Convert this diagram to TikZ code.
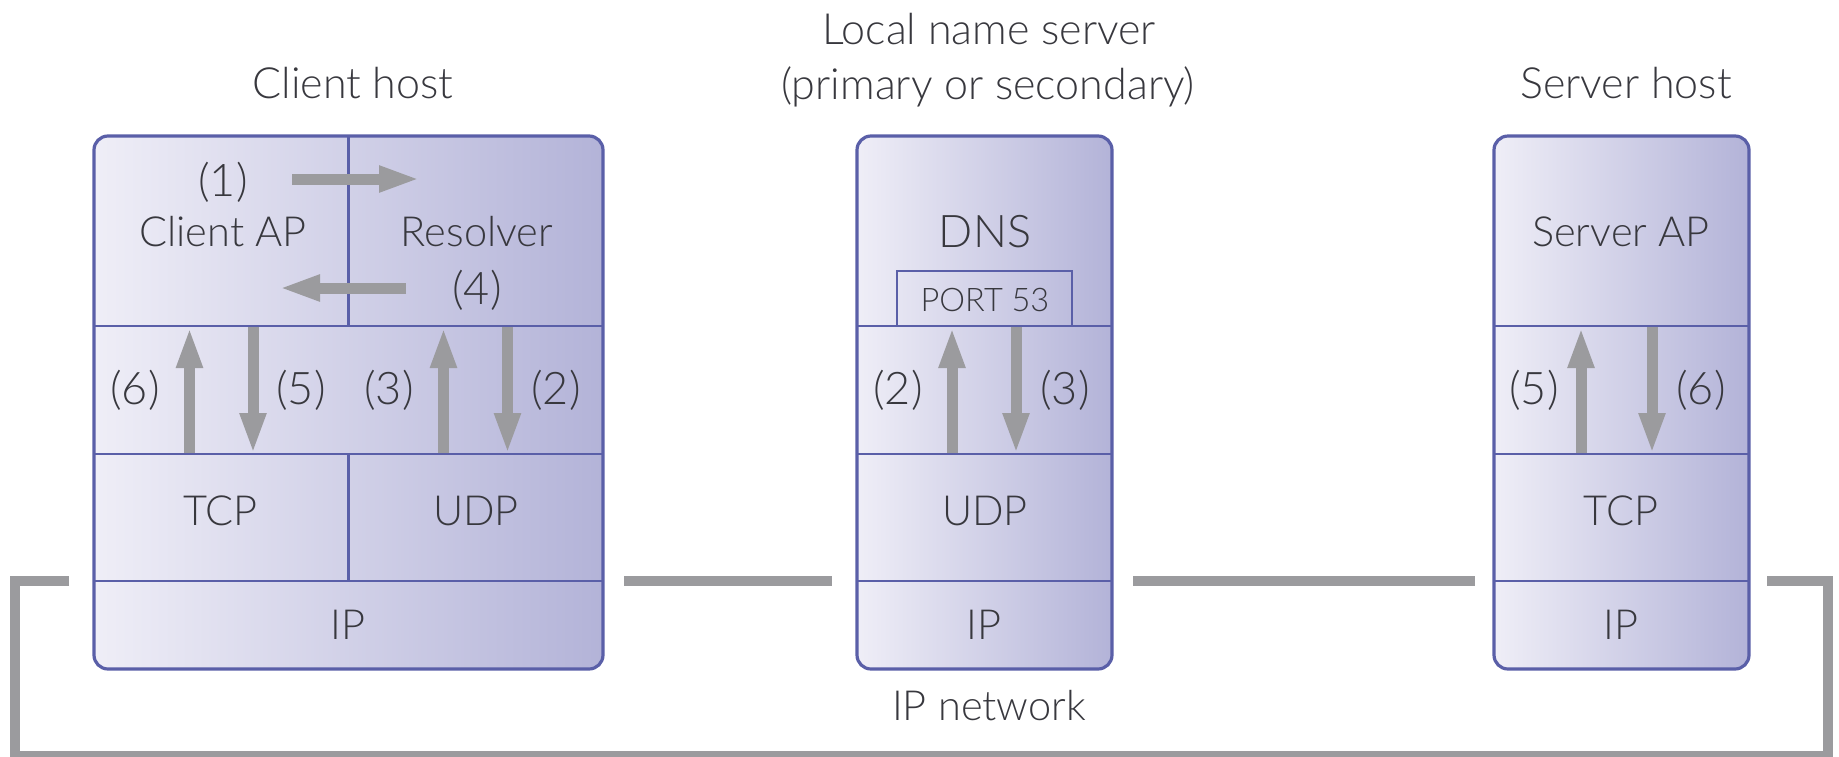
\documentclass[tikz,border=0pt]{standalone}
\usepackage{fontspec}
\setmainfont[UprightFont={* Light}]{Lato}
\usetikzlibrary{arrows.meta}
\definecolor{boxline}{HTML}{5A5FA8}
\definecolor{gradl}{HTML}{EFEEF7}
\definecolor{gradr}{HTML}{B3B3D8}
\definecolor{arrowgray}{HTML}{9B9B9E}
\definecolor{txtc}{HTML}{38383E}
\tikzset{
  x=1pt,y=-1pt,
  hostbox/.style={shade,shading angle=0,left color=gradl,right color=gradr,draw=boxline,line width=3.2pt,rounded corners=14pt,inner sep=0pt,outer sep=0pt,anchor=north west},
  inner/.style={draw=boxline,line width=2.4pt},
  lbl/.style={font=\fontsize{41.5}{41.5}\selectfont,text=txtc,inner sep=0pt,anchor=center},
  titlelbl/.style={font=\fontsize{43}{43}\selectfont,text=txtc,inner sep=0pt,anchor=center},
  numlbl/.style={font=\fontsize{45}{45}\selectfont,text=txtc,inner sep=0pt,anchor=center},
  smalllbl/.style={font=\fontsize{32.5}{32.5}\selectfont,text=txtc,inner sep=0pt,anchor=center},
  flow/.style={draw=arrowgray,line width=11pt,-{Triangle[length=41pt,width=24pt,fill=arrowgray]}},
  net/.style={draw=arrowgray,line width=10pt,line join=miter},
}
\begin{document}
\begin{tikzpicture}
\useasboundingbox (0,0) rectangle (1839,756);
\clip (0,0) rectangle (1839,756);
\node[hostbox,minimum width=509pt,minimum height=533pt] (client) at (94,136) {};
\node[hostbox,minimum width=255pt,minimum height=533pt] (local) at (857,136) {};
\node[hostbox,minimum width=255pt,minimum height=533pt] (server) at (1494,136) {};
\coordinate (r1) at (0,326);
\coordinate (r2) at (0,454);
\coordinate (r3) at (0,581);
\coordinate (top) at (0,136);
\coordinate (cmid) at (348.5,0);
\foreach \b in {client,local,server}{
  \draw[inner] (\b.west |- r1) -- (\b.east |- r1);
  \draw[inner] (\b.west |- r2) -- (\b.east |- r2);
  \draw[inner] (\b.west |- r3) -- (\b.east |- r3);
}
\draw[inner] (cmid |- top) -- (cmid |- r1);
\draw[inner] (cmid |- r2) -- (cmid |- r3);
\node[draw=boxline,line width=2.4pt,inner sep=0pt,outer sep=0pt,minimum width=175pt,minimum height=55pt] (port) at (984.5,298.5) {};
\node[smalllbl] (portlbl) at (985,300) {PORT 53};
% network
\coordinate (n1) at (69,581);
\coordinate (n2) at (14.5,581);
\coordinate (n3) at (14.5,756);
\coordinate (n4) at (1827.5,756);
\coordinate (n5) at (1827.5,581);
\coordinate (n6) at (1767,581);
\draw[net] (n1) -- (n2) -- (n3) -- (n4) -- (n5) -- (n6);
\coordinate (a1) at (624,581); \coordinate (a2) at (832,581);
\coordinate (b1) at (1133,581); \coordinate (b2) at (1475,581);
\draw[net] (a1) -- (a2);
\draw[net] (b1) -- (b2);
% flows
\foreach \n/\fx/\fy/\tx/\ty in {f1/292/179/420/179,f4/406/288/279/288,
  f6/189.5/453/189.5/327,f5/253/327/253/454,f3/443.5/453/443.5/327,f2/507.5/327/507.5/454,
  m2/952/453/952/327,m3/1016/327/1016/454,
  s5/1581/453/1581/327,s6/1652/327/1652/454}{
  \coordinate (\n s) at (\fx,\fy);
  \coordinate (\n e) at (\tx,\ty);
  \draw[flow] (\n s) -- (\n e);
}
% labels
\node[titlelbl] (t1) at (353,83) {Client host};
\node[titlelbl] (t2) at (989,29) {Local name server};
\node[titlelbl] (t3) at (988,87) {(primary or secondary)};
\node[titlelbl] (t4) at (1626,83) {Server host};
\node[numlbl] (l1) at (223,182) {(1)};
\node[lbl] (l2) at (223,232) {Client AP};
\node[lbl] (l3) at (477,232) {Resolver};
\node[numlbl] (l4) at (477,290) {(4)};
\node[numlbl] (l5) at (135,390) {(6)};
\node[numlbl] (l6) at (301,390) {(5)};
\node[numlbl] (l7) at (389,390) {(3)};
\node[numlbl] (l8) at (556,390) {(2)};
\node[lbl] (l9) at (220.5,511) {TCP};
\node[lbl] (l10) at (476,511) {UDP};
\node[lbl] (l11) at (348,625) {IP};
\node[numlbl] (m1) at (985,232) {DNS};
\node[numlbl] (m4) at (898,390) {(2)};
\node[numlbl] (m5) at (1065,390) {(3)};
\node[lbl] (m6) at (985,511) {UDP};
\node[lbl] (m7) at (984,625) {IP};
\node[lbl] (m8) at (989,706) {IP network};
\node[lbl] (s1) at (1621,232) {Server AP};
\node[numlbl] (s2) at (1534,390) {(5)};
\node[numlbl] (s3) at (1701,390) {(6)};
\node[lbl] (s4) at (1621,511) {TCP};
\node[lbl] (s7) at (1621,625) {IP};
\end{tikzpicture}
\end{document}
